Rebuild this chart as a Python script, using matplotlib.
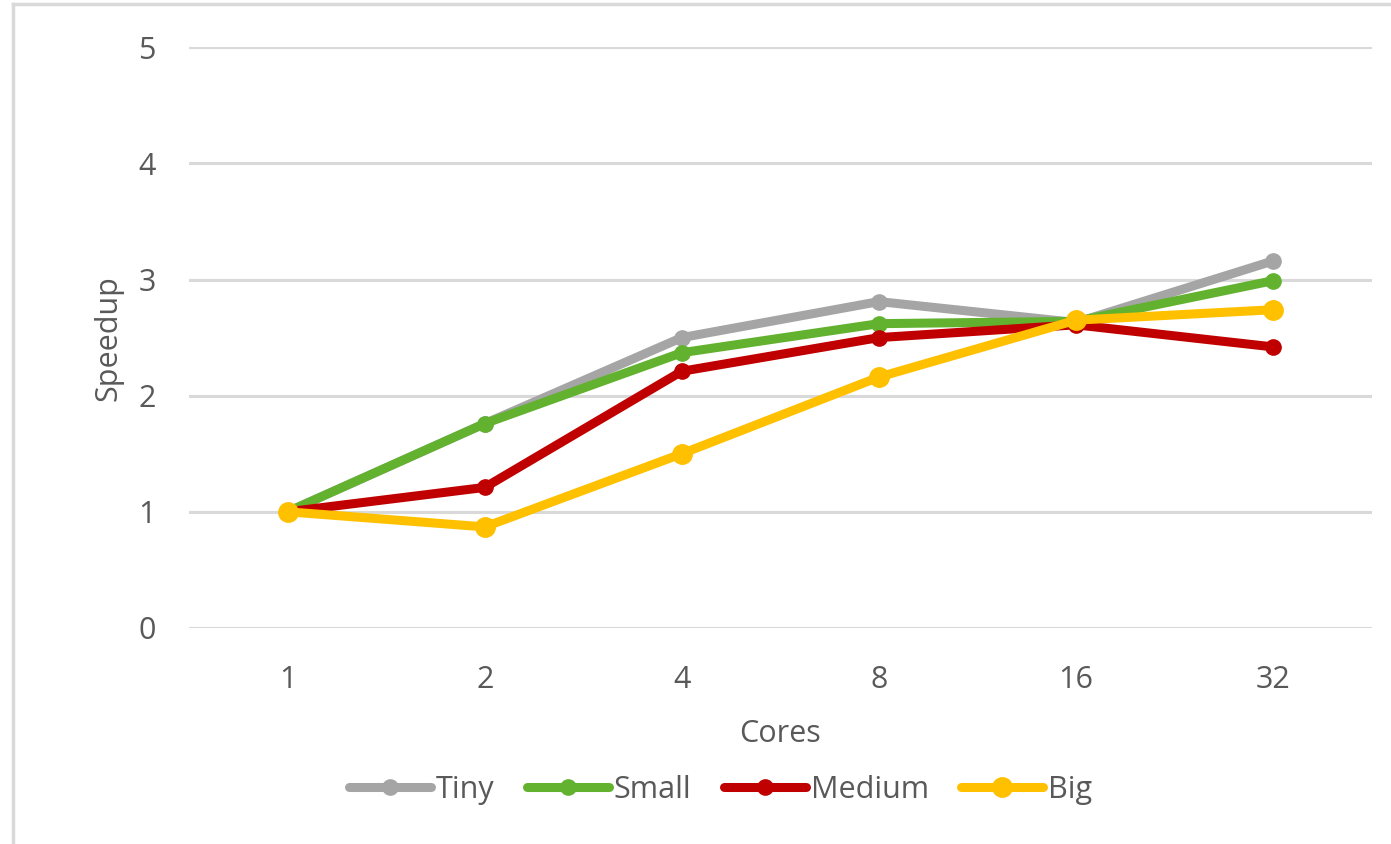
import matplotlib.pyplot as plt
from matplotlib.lines import Line2D

plt.rcParams['font.family'] = ['Open Sans', 'DejaVu Sans']

cores = ['1', '2', '4', '8', '16', '32']
tiny = [1.0, 1.76, 2.50, 2.81, 2.63, 3.16]
small = [1.0, 1.76, 2.37, 2.62, 2.64, 2.99]
medium = [1.0, 1.21, 2.21, 2.50, 2.61, 2.42]
big = [1.0, 0.87, 1.50, 2.16, 2.65, 2.74]

txt = '#595959'
grid = '#d9d9d9'
fs = 22

fig = plt.figure(figsize=(13.91, 8.44), dpi=100)
ax = fig.add_axes([0.136, 0.256, 0.850, 0.688])

x = range(len(cores))
ax.plot(x, tiny, color='#a5a5a5', lw=6.5, marker='o', ms=11, label='Tiny', solid_capstyle='round', zorder=3)
ax.plot(x, small, color='#62b22f', lw=6.5, marker='o', ms=11, label='Small', solid_capstyle='round', zorder=4)
ax.plot(x, medium, color='#c00000', lw=6.5, marker='o', ms=11, label='Medium', solid_capstyle='round', zorder=5)
ax.plot(x, big, color='#ffc000', lw=6.5, marker='o', ms=14, label='Big', solid_capstyle='round', zorder=6)

ax.set_xlim(-0.5, len(cores) - 0.5)
ax.set_ylim(0, 5)
ax.set_xticks(list(x))
ax.set_xticklabels(cores)
ax.set_yticks(range(6))
ax.grid(axis='y', color=grid, lw=2.2)
ax.set_axisbelow(True)
for s in ax.spines.values():
    s.set_visible(False)
ax.tick_params(length=0, labelsize=fs, labelcolor=txt)
ax.tick_params(axis='x', pad=27)
ax.tick_params(axis='y', pad=24)

ax.set_xlabel('Cores', fontsize=fs, color=txt, labelpad=17)
ax.set_ylabel('Speedup', fontsize=fs, color=txt, labelpad=11)

leg = fig.legend(loc='center', bbox_to_anchor=(0.518, 0.064), ncol=4, frameon=False,
                 fontsize=fs, labelcolor=txt, handlelength=2.7, handletextpad=0.15,
                 columnspacing=1.05)

# light frame around the chart area
fig.add_artist(Line2D([0.009, 0.009], [0, 0.995], color=grid, lw=2.5))
fig.add_artist(Line2D([0.009, 1.0], [0.995, 0.995], color=grid, lw=2.5))

fig.savefig('out.png', dpi=100)
